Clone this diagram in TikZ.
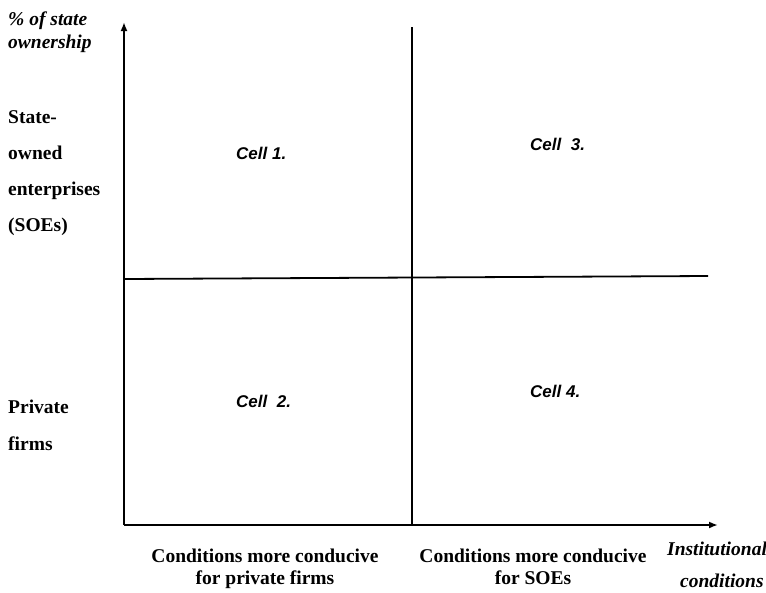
\documentclass[tikz,border=0pt]{standalone}
\usepackage{fontspec}
\setmainfont{Liberation Serif}
\newfontfamily\helv{Liberation Sans}
\usepackage{tikz}
\usetikzlibrary{arrows.meta, positioning}

\begin{document}
\begin{tikzpicture}[x=1pt, y=-1pt,
    eje/.style={line width=2.4pt, -{Latex[length=9pt,width=7pt]}},
    divisor/.style={line width=1.8pt},
    etiqueta/.style={anchor=base west, inner sep=0pt, font=\fontsize{19.5}{21}\selectfont\bfseries},
    titulo/.style={etiqueta, font=\fontsize{19.5}{21}\selectfont\bfseries\itshape},
    celda/.style={anchor=base west, inner sep=0pt, font=\helv\fontsize{17}{19}\selectfont\bfseries\itshape},
    abajo/.style={anchor=base, inner sep=0pt, align=center, font=\fontsize{19.5}{22}\selectfont\bfseries}]
    \useasboundingbox (0,0) rectangle (766,592);

    % Ejes coordenados
    \coordinate (O) at (124,525);
    \coordinate (ytip) at (124,22);
    \coordinate (xtip) at (718,525);
    \draw[eje] (O) -- (ytip);
    \draw[eje] (O) -- (xtip);

    % Divisiones de las celdas
    \coordinate (mtop) at (412,27);
    \coordinate (mbot) at (412,525);
    \coordinate (hl) at (124,279);
    \coordinate (hr) at (708,276);
    \draw[divisor] (mbot) -- (mtop);
    \draw[divisor] (hl) -- (hr);

    % Eje vertical
    \node[titulo] (pct) at (8,25) {\% of state};
    \node[titulo] (own) at (8,48) {ownership};
    \node[etiqueta] (st) at (8,123) {State-};
    \node[etiqueta] (ow) at (8,159) {owned};
    \node[etiqueta] (en) at (8,195) {enterprises};
    \node[etiqueta] (soe) at (8,231) {(SOEs)};
    \node[etiqueta] (pr) at (8,413) {Private};
    \node[etiqueta] (fi) at (8,450) {firms};

    % Celdas
    \node[celda] (c1) at (236,159) {Cell 1.};
    \node[celda] (c2) at (236,407) {Cell\ \ 2.};
    \node[celda] (c3) at (530,150) {Cell\ \ 3.};
    \node[celda] (c4) at (530,397) {Cell 4.};

    % Eje horizontal
    \node[abajo] (privf) at (265,584) {Conditions more conducive\\for private firms};
    \node[abajo] (soef) at (533,584) {Conditions more conducive\\for SOEs};
    \node[titulo] (inst) at (667,555) {Institutional};
    \node[titulo] (cond) at (680,587) {conditions};
\end{tikzpicture}
\end{document}
